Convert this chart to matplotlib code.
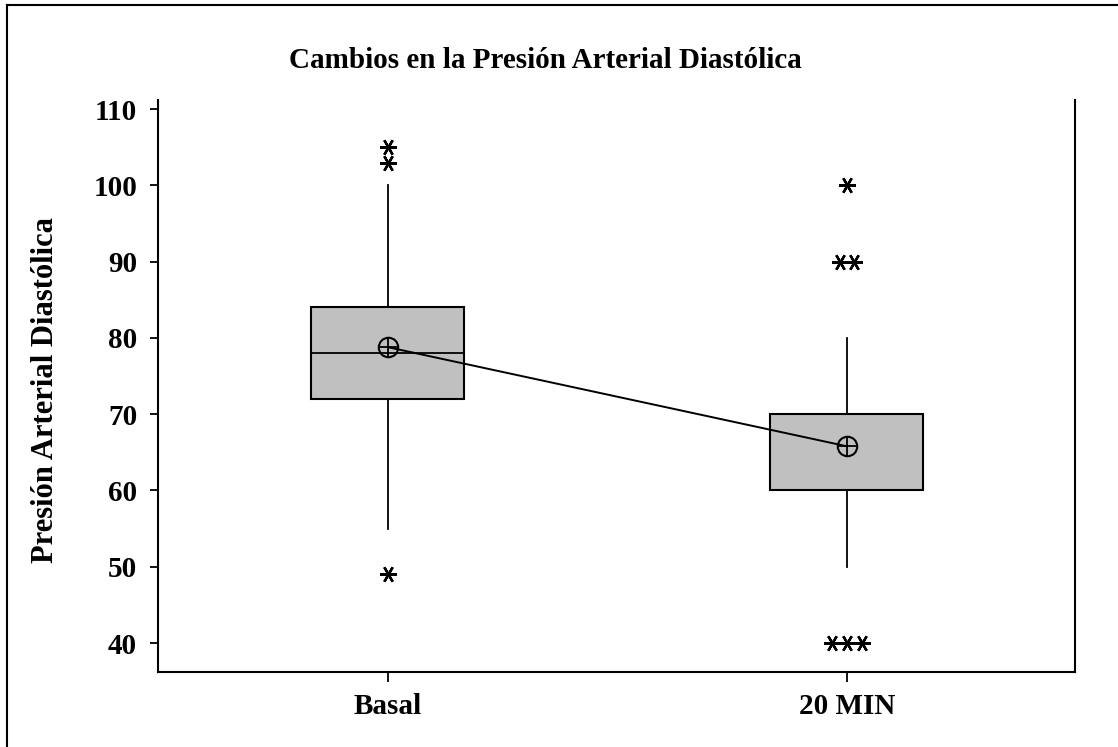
import matplotlib
matplotlib.use("Agg")
import matplotlib.pyplot as plt
from matplotlib.lines import Line2D

# ------------------------------------------------------------------
# Data
# ------------------------------------------------------------------
groups = ["Basal", "20 MIN"]
q1 = [72, 60]
medians = [78, 70]
q3 = [84, 70]
whisker_low = [55, 50]
whisker_high = [100, 80]
means = [78.8, 65.8]

# outliers: (group index, value, small horizontal shift for ties)
outlier_group = [0, 0, 0, 1, 1, 1, 1, 1, 1]
outlier_value = [105, 103, 49, 100, 90, 90, 40, 40, 40]
outlier_shift = [0, 0, 0, 0, -0.015, 0.015, -0.032, 0, 0.032]

yticks = [40, 50, 60, 70, 80, 90, 100, 110]

plt.rcParams['font.family'] = ['Liberation Serif', 'DejaVu Serif']
plt.rcParams['font.weight'] = 'bold'

fig = plt.figure(figsize=(11.18, 7.47), dpi=100)
ax = fig.add_axes([0.1413, 0.1004, 0.8203, 0.7657])

positions = [1, 2]
stats = []
for i, g in enumerate(groups):
    stats.append(dict(label=g, q1=q1[i], med=medians[i], q3=q3[i],
                      whislo=whisker_low[i], whishi=whisker_high[i], fliers=[]))

ax.bxp(stats, positions=positions, widths=0.333, patch_artist=True,
       showcaps=False, showfliers=False,
       boxprops=dict(facecolor='#c0c0c0', edgecolor='black', linewidth=1.5),
       medianprops=dict(color='black', linewidth=1.3),
       whiskerprops=dict(color='black', linewidth=1.3))

# outliers as six-armed asterisks
for gi, v, dx in zip(outlier_group, outlier_value, outlier_shift):
    ax.plot(positions[gi] + dx, v, marker=(6, 2, 90), color='black',
            markersize=12, markeredgewidth=1.7, linestyle='none', zorder=4)

# mean connect line and circle-plus symbols
ax.plot(positions, means, color='black', linewidth=1.4, zorder=3)
ax.plot(positions, means, marker='o', markersize=14, markerfacecolor='none',
        markeredgecolor='black', markeredgewidth=1.5, linestyle='none', zorder=5)
ax.plot(positions, means, marker='+', markersize=14, color='black',
        markeredgewidth=1.3, linestyle='none', zorder=5)

ax.set_xlim(0.5, 2.497)
ax.set_ylim(36.2, 111.2)
ax.set_yticks(yticks)
ax.set_xticks(positions)
ax.set_xticklabels(groups)

ax.spines['top'].set_visible(False)
for s in ['left', 'right', 'bottom']:
    ax.spines[s].set_linewidth(1.5)
ax.tick_params(axis='y', direction='out', length=6, width=1.3, labelsize=21, pad=9)
ax.tick_params(axis='x', direction='out', length=7, width=1.3, labelsize=21, pad=8)
for lab in ax.get_xticklabels() + ax.get_yticklabels():
    lab.set_fontweight('bold')

fig.text(0.041, 0.478, 'Presión Arterial Diastólica', rotation=90,
         ha='center', va='center', fontsize=22, fontweight='bold')
fig.text(0.488, 0.919, 'Cambios en la Presión Arterial Diastólica',
         ha='center', va='center', fontsize=21, fontweight='bold')

# outer frame (only left and top edges visible in the reference)
fig.add_artist(Line2D([7 / 1118, 7 / 1118], [0, 1 - 5 / 747], transform=fig.transFigure,
                      color='black', linewidth=1.5))
fig.add_artist(Line2D([7 / 1118, 1], [1 - 5 / 747, 1 - 5 / 747], transform=fig.transFigure,
                      color='black', linewidth=1.5))

fig.savefig("out.png", dpi=100)
